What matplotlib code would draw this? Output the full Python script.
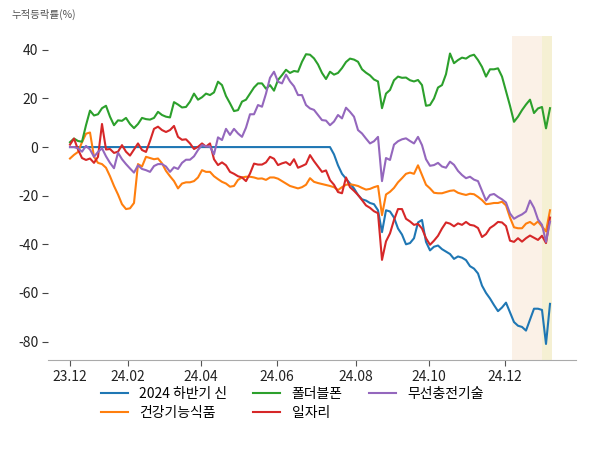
"""
누적등락률 line chart: five themes, Dec 2023 - Dec 2024
"""
import matplotlib
matplotlib.use("Agg")
from matplotlib import pyplot as plt

plt.rcParams['font.family'] = ['Noto Sans CJK KR', 'DejaVu Sans']
plt.rcParams['axes.unicode_minus'] = False

tick_labels = ["23.12", "24.02", "24.04", "24.06", "24.08", "24.10", "24.12"]
tick_pos = [0, 14.4, 32.75, 51.8, 71.4, 89.7, 108.75]

names = ["2024 하반기 신", "건강기능식품", "폴더블폰", "일자리", "무선충전기술"]
colors = ["#1f77b4", "#ff7f0e", "#2ca02c", "#d62728", "#9467bd"]

# 2024 하반기 신
blue = [0] * 66 + [
    -3, -7.5, -11, -13, -15, -17, -19.7, -21.5, -22, -23,
    -23.5, -26, -35, -26, -26.5, -29, -33.5, -36, -40, -39.5,
    -37.5, -31, -30, -39, -42.5, -41, -40.5, -42, -43, -44,
    -46, -45, -45.5, -46.5, -49, -50, -52, -57, -60, -62.3,
    -65, -67.5, -66, -64, -68, -72, -73.5, -74, -75.5, -71,
    -66.5, -66.5, -67, -81, -64.5]

# 건강기능식품
orange = [
    -4.7, -3.2, -2, 2, 5.5, 6, -4, -6.5, -7, -8.5,
    -12, -16, -19.5, -23.5, -25.5, -25.2, -23, -7, -8, -4,
    -4.5, -5, -4.7, -6.7, -9.8, -12, -14, -17, -15, -14.5,
    -14.5, -14, -12.5, -9.5, -10.2, -10.2, -12, -13.2, -14.3, -15,
    -16.3, -16, -13.5, -12.5, -12.2, -12.2, -12.5, -13, -12.9, -13.5,
    -12.5, -12.5, -13, -14, -15, -16, -16.5, -17, -16.5, -15.5,
    -12.8, -14.3, -14.8, -15.2, -15.6, -16, -16.5, -17.7, -16.5, -15.5,
    -15.3, -15.6, -16, -16.8, -17.5, -17.2, -16.5, -16, -28, -19.5,
    -18.4, -16.8, -14.5, -12.8, -11, -10.5, -11, -7.5, -11.5, -15.5,
    -17, -18.8, -19, -19, -18.5, -18, -17.8, -18.8, -19.3, -19.7,
    -19.2, -19.4, -20.5, -21.8, -23.5, -23.3, -23, -23, -22.5, -24,
    -29, -33, -33.4, -33.4, -31.5, -30.8, -32, -30.6, -32.7, -34.7,
    -26]

# 폴더블폰
green = [
    2, 3.5, 2.5, 2.2, 9, 15, 13, 13.5, 16, 17,
    12.5, 9, 11, 10.8, 12, 9.5, 7.8, 9.5, 12, 11.5,
    11.3, 12, 14.5, 13.2, 12.5, 12.2, 18.5, 17.5, 16.3, 16.5,
    18.7, 22, 19.5, 20.5, 22, 21.4, 22.5, 26.9, 25.5, 21,
    18, 14.8, 15.2, 18.7, 19.5, 22, 24.5, 26.2, 26.2, 24,
    25.5, 23.2, 27.6, 29.6, 31.8, 30.5, 31.3, 31, 35.1, 38.2,
    38, 36.5, 34, 30.5, 28, 31, 29.8, 30.5, 32.5, 35,
    36.4, 36, 35.1, 32, 30.6, 29.5, 27.8, 27, 16, 22,
    23.5, 27.5, 29, 28.5, 28.6, 27.5, 27, 27.6, 25.5, 17,
    17.3, 20, 24.5, 25.5, 30, 38.5, 34.5, 35.8, 36.8, 36.4,
    37.5, 38, 35.8, 33, 29, 32, 32, 32.4, 29, 23,
    17, 10.4, 12.5, 15.2, 17.5, 19.5, 14, 15.9, 16.5, 7.7,
    16]

# 일자리
red = [
    1, 3.5, -1, -4.5, -5.3, -4.7, -6.5, -4, 9.5, -1,
    -0.8, -2.4, -1.9, 0.8, -1.9, -3.5, -1, 1.5, -1.2, -2,
    2.5, 7.5, 8.4, 7, 6.2, 7, 8.7, 4.2, 3, 3.2,
    1.5, -0.8, 0.1, 1.5, 0.2, 1.5, -5, -7.4, -6.3, -7.5,
    -10.2, -11, -12, -12.5, -14, -10.9, -6.8, -7.2, -7.2, -6.3,
    -4, -4.8, -7.4, -6.7, -6.2, -7.4, -5, -8.5, -7.8, -7,
    -3.3, -5.8, -8, -10.2, -9.6, -13.6, -15.5, -18.5, -19, -12.5,
    -16.5, -18, -19.7, -21.8, -24, -25, -26.4, -27.2, -46.4, -38.8,
    -35.5, -30, -25.5, -25.5, -29.5, -30.6, -32, -31.6, -33.5, -37.5,
    -40.2, -38.5, -36.5, -33.5, -31, -31.5, -32.6, -31.4, -32, -30.8,
    -32, -32.3, -33.3, -37, -35.8, -33.3, -32.2, -30.8, -31, -32.5,
    -38.5, -39, -37.5, -38.9, -37.5, -36.4, -37.3, -38.2, -36.5, -39.5,
    -29]

# 무선충전기술
purple = [
    0, 0, -0.5, -1.9, 0.5, -1, -4, -2, -0.5, -3.8,
    -6.5, -8.7, -2.3, -5, -7, -8.8, -10.5, -7.5, -9, -9.5,
    -10.2, -7.8, -7, -7, -8, -10.2, -8.3, -9, -6.5, -5.2,
    -5.2, -3.8, -1.2, 0.8, 0.3, 0.2, -3, 4, 2.9, 7.5,
    5, 7.5, 5.6, 4.2, 8, 13.5, 13.5, 17.3, 16.6, 22,
    28.5, 31, 26.9, 26.2, 29.8, 27, 25, 21.4, 21.4, 17.3,
    15.9, 15.3, 13.2, 11.1, 10.9, 9, 10.5, 13.2, 11.8, 16.2,
    14.5, 12.5, 7, 5.6, 3.5, 1.5, 2.4, 4.2, -14, -4.5,
    -5.3, 1, 2.4, 3.2, 3.6, 2.5, 1.5, 4.2, 0.8, -5,
    -7.7, -7.4, -6.5, -8, -8.5, -6, -7.3, -9.8, -11.5, -12.8,
    -12.2, -13.4, -14, -18, -22, -19.7, -19.3, -20.5, -21.5, -22.8,
    -27.3, -29.5, -28.5, -27.7, -26.5, -22, -25, -29.8, -32, -39,
    -30.7]

series = [blue, orange, green, red, purple]


def main():
    fig = plt.figure(figsize=(6, 4.5), dpi=100)
    ax = fig.add_axes([0.08, 0.2, 0.88, 0.72])

    # highlighted periods at the right end
    ax.axvspan(110.5, 117.9, color="#fbf1e7", lw=0, zorder=0)
    ax.axvspan(117.9, 120.4, color="#f5f0d3", lw=0, zorder=0)

    for name, col, vals in zip(names, colors, series):
        ax.plot(range(len(vals)), vals, color=col, lw=1.5, label=name)

    ax.set_xlim(-5.5, 126.5)
    ax.set_ylim(-87.6, 45.7)
    ax.set_yticks([40, 20, 0, -20, -40, -60, -80])
    ax.set_xticks(tick_pos)
    ax.set_xticklabels(tick_labels)

    for side in ["top", "right", "left"]:
        ax.spines[side].set_visible(False)
    ax.spines["bottom"].set_color("#aaaaaa")
    ax.tick_params(axis="both", labelsize=10, colors="#222222", length=4)
    ax.tick_params(axis="x", color="#555555")
    ax.tick_params(axis="y", color="#444444", pad=3)

    fig.text(0.02, 0.967, "누적등락률(%)", fontsize=7.5, color="#555555",
             va="center", ha="left")

    ax.legend(loc="upper center", bbox_to_anchor=(0.487, 0.167),
              bbox_transform=fig.transFigure, ncol=3, frameon=False,
              fontsize=10, handlelength=1.95, handletextpad=0.8,
              columnspacing=1.9, labelspacing=0.3)

    fig.savefig("out.png")


if __name__ == '__main__':
    main()
